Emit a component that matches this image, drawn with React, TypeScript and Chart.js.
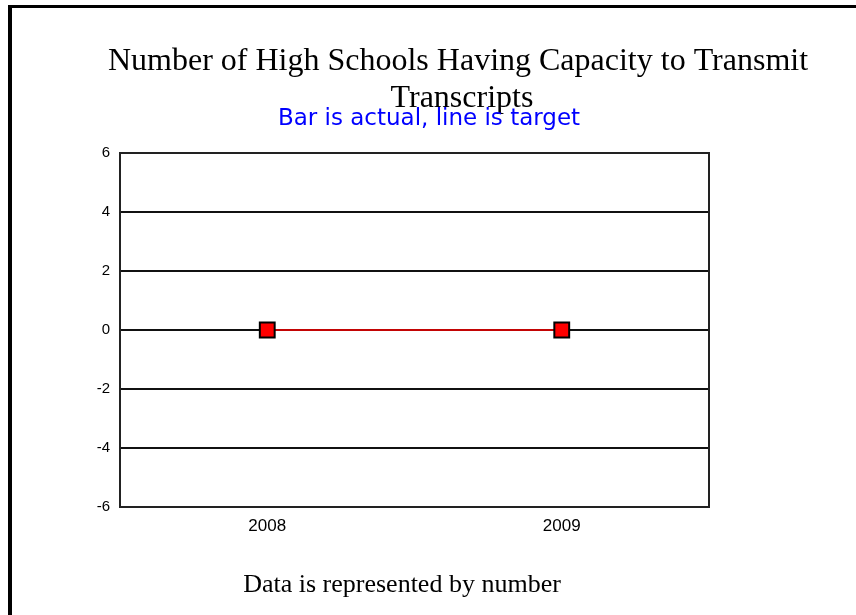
import React, { useEffect, useRef } from "react";
import { Chart, registerables } from "chart.js";

Chart.register(...registerables);

const categories = ["2008", "2009"];
const actualValues = [0, 0];
const targetValues = [0, 0];
const yTicks = [-6, -4, -2, 0, 2, 4, 6];
const titleLines = ["Number of High Schools Having Capacity to Transmit", "Transcripts"];
const subtitleText = "Bar is actual, line is target";
const footerText = "Data is represented by number";

const decorPlugin = {
  id: "decor",
  beforeDraw(chart: any) {
    const ctx = chart.ctx;
    ctx.save();
    ctx.fillStyle = "#ffffff";
    ctx.fillRect(0, 0, chart.width, chart.height);
    ctx.fillStyle = "#000000";
    // page frame (left and top edges)
    ctx.fillRect(8, 5, 4, chart.height - 5);
    ctx.fillRect(8, 5, chart.width - 8, 3);
    ctx.restore();
  },
  beforeDatasetsDraw(chart: any) {
    const { ctx, chartArea } = chart;
    ctx.save();
    ctx.strokeStyle = "#222222";
    ctx.lineWidth = 2;
    ctx.strokeRect(chartArea.left, chartArea.top, chartArea.right - chartArea.left, chartArea.bottom - chartArea.top);
    ctx.restore();
  },
  afterDraw(chart: any) {
    const ctx = chart.ctx;
    ctx.save();
    ctx.textAlign = "center";
    ctx.textBaseline = "alphabetic";
    ctx.fillStyle = "#000000";
    ctx.font = '32px "Liberation Serif", "Times New Roman", serif';
    ctx.fillText(titleLines[0], 458, 70);
    ctx.fillText(titleLines[1], 462, 107);
    ctx.fillStyle = "#0000ff";
    ctx.font = '23px "DejaVu Sans", "Liberation Sans", Arial, sans-serif';
    ctx.fillText(subtitleText, 429, 125);
    ctx.fillStyle = "#000000";
    ctx.font = '26px "Liberation Serif", "Times New Roman", serif';
    ctx.fillText(footerText, 402, 592);
    ctx.restore();
  },
};

export default function App() {
  const canvasRef = useRef<HTMLCanvasElement | null>(null);

  useEffect(() => {
    if (!canvasRef.current) return;
    const chart = new Chart(canvasRef.current, {
      type: "bar",
      data: {
        labels: categories,
        datasets: [
          {
            type: "line",
            label: "Target",
            data: targetValues,
            borderColor: "#ff0000",
            backgroundColor: "#ff0000",
            borderWidth: 1.5,
            pointStyle: "rect",
            pointRadius: 10.5,
            pointHoverRadius: 10.5,
            pointBackgroundColor: "#ff0000",
            pointBorderColor: "#000000",
            pointBorderWidth: 2,
            order: 0,
          } as any,
          {
            type: "bar",
            label: "Actual",
            data: actualValues,
            backgroundColor: "#0000ff",
            borderWidth: 0,
            order: 1,
          },
        ],
      },
      options: {
        animation: false,
        responsive: false,
        maintainAspectRatio: false,
        events: [],
        layout: { padding: { left: 90, right: 147, top: 153, bottom: 78 } },
        plugins: {
          legend: { display: false },
          title: { display: false },
          tooltip: { enabled: false },
        },
        scales: {
          x: {
            offset: true,
            grid: { display: false, drawTicks: false },
            border: { display: false },
            ticks: {
              color: "#000000",
              padding: 9,
              font: { family: '"Liberation Sans", Arial, sans-serif', size: 17 },
            },
            afterFit: (s: any) => {
              s.height = 30;
            },
          },
          y: {
            min: -6,
            max: 6,
            grid: { color: "#111111", lineWidth: 2, drawTicks: false },
            border: { display: false },
            afterBuildTicks: (s: any) => {
              s.ticks = yTicks.map((v) => ({ value: v }));
            },
            ticks: {
              color: "#000000",
              padding: 10,
              font: { family: '"Liberation Sans", Arial, sans-serif', size: 15 },
            },
            afterFit: (s: any) => {
              s.width = 30;
            },
          },
        },
      },
      plugins: [decorPlugin],
    });
    return () => chart.destroy();
  }, []);

  return (
    <div style={{ position: "fixed", left: 0, top: 0, width: 856, height: 615, background: "#fff" }}>
      <canvas ref={canvasRef} width={856} height={615} style={{ display: "block", width: 856, height: 615 }} />
    </div>
  );
}
